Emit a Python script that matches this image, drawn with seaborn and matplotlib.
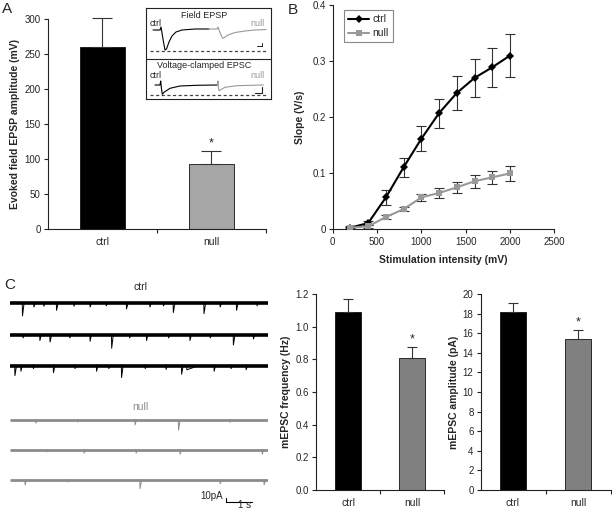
import numpy as np
import pandas as pd
import matplotlib
matplotlib.use('Agg')
import matplotlib.pyplot as plt
import seaborn as sns
from matplotlib.ticker import FuncFormatter

# ---------------- data ----------------
cats = ['ctrl', 'null']
a_amp = [260, 92]
a_err = [41, 19]

b_intensity = [200, 400, 600, 800, 1000, 1200, 1400, 1600, 1800, 2000]
b_ctrl = [0.002, 0.010, 0.056, 0.110, 0.161, 0.207, 0.243, 0.270, 0.289, 0.310]
b_ctrl_err = [0.002, 0.003, 0.014, 0.017, 0.022, 0.026, 0.030, 0.034, 0.035, 0.038]
b_null = [0.002, 0.004, 0.021, 0.035, 0.056, 0.064, 0.074, 0.085, 0.092, 0.099]
b_null_err = [0.001, 0.002, 0.003, 0.004, 0.007, 0.009, 0.010, 0.012, 0.012, 0.014]

c_freq = [1.09, 0.81]
c_freq_err = [0.08, 0.065]
c_amp = [18.2, 15.4]
c_amp_err = [0.9, 0.9]

# mEPSC trace events: (time s, depth pA, decay s)
ctrl_events = [
    [(0.48, 34, 0.06), (0.92, 10, 0.05), (1.3, 8, 0.05), (1.79, 19, 0.06), (2.46, 8, 0.05),
     (3.08, 10, 0.05), (3.7, 7, 0.05), (4.48, 15, 0.06), (5.38, 10, 0.05), (5.9, 7, 0.05),
     (6.28, 25, 0.06), (7.46, 28, 0.06), (8.08, 10, 0.05), (8.71, 19, 0.06), (9.5, 7, 0.05)],
    [(0.5, 8, 0.05), (1.15, 15, 0.05), (1.54, 19, 0.06), (2.3, 8, 0.05), (3.08, 17, 0.05),
     (3.91, 36, 0.06), (4.6, 8, 0.05), (5.25, 15, 0.05), (6.1, 8, 0.05), (6.92, 15, 0.05),
     (7.7, 8, 0.05), (8.59, 27, 0.06), (9.36, 11, 0.05)],
    [(0.19, 27, 0.06), (0.42, 15, 0.05), (0.9, 8, 0.05), (1.67, 19, 0.06), (2.5, 8, 0.05),
     (3.33, 15, 0.05), (3.8, 8, 0.05), (4.29, 32, 0.06), (5.2, 8, 0.05), (6.0, 10, 0.05),
     (6.6, 23, 0.06), (6.8, 11, 0.45), (7.85, 15, 0.05), (8.5, 8, 0.05), (9.08, 11, 0.05)],
]
null_events = [
    [(1.0, 8, 0.05), (2.6, 5, 0.05), (4.81, 13, 0.05), (6.48, 27, 0.06), (8.46, 6, 0.05)],
    [(1.4, 5, 0.05), (2.85, 8, 0.05), (4.85, 8, 0.05), (6.54, 11, 0.05), (9.7, 11, 0.05)],
    [(0.58, 13, 0.05), (2.2, 5, 0.05), (5.0, 23, 0.06), (8.08, 10, 0.05), (9.77, 13, 0.05)],
]
trace_len = 9.92

# inset waveforms (relative units)
fepsp_ctrl_x = [7, 14, 15, 16, 17.5, 19, 20.5, 23, 26, 30, 36, 49, 63]
fepsp_ctrl_y = [21.7, 21.7, 18.7, 24.7, 33.7, 41.7, 40.7, 33.7, 27.7, 23.7, 21.7, 20.7, 20.7]
fepsp_null_x = [63, 71, 72, 73, 75, 76.7, 78.5, 82, 89, 99, 109, 120]
fepsp_null_y = [20.7, 20.7, 18.7, 21.7, 26.7, 30, 29.2, 26.7, 24.2, 22.7, 21.7, 21.2]
epsc_ctrl_x = [9, 14, 14.7, 15.3, 16.3, 18, 24, 34, 50.7, 71.3]
epsc_ctrl_y = [76.7, 76.7, 72.7, 79, 86, 84, 80, 77.7, 77, 76.7]
epsc_null_x = [71.3, 72, 72.5, 73, 79, 90.7, 117.3]
epsc_null_y = [76.7, 72.7, 80, 82.4, 79, 77.4, 76.7]

# ---------------- style ----------------
sns.set_theme(style='white')
plt.rcParams['font.family'] = ['Liberation Sans', 'DejaVu Sans']
plt.rcParams['axes.linewidth'] = 0.8

W, H = 612, 509
fig = plt.figure(figsize=(6.12, 5.09), dpi=100)


def axpx(l, t, r, b):
    return fig.add_axes([l / W, 1 - b / H, (r - l) / W, (b - t) / H])


def style(ax):
    for s in ['top', 'right']:
        ax.spines[s].set_visible(False)
    for s in ['left', 'bottom']:
        ax.spines[s].set_color('#222222')
        ax.spines[s].set_linewidth(0.8)
    ax.tick_params(axis='y', which='both', left=True, direction='out', length=3, width=0.8,
                   labelsize=7, pad=2, color='#222222')
    ax.set_facecolor('none')


def unclip(eb):
    for group in eb.lines[1:]:
        for art in group:
            art.set_clip_on(False)


def barpanel(ax, vals, errs, colors, ylim, yticks, fmt, ylabel, capsize, width):
    df = pd.DataFrame({'cond': cats, 'val': vals})
    sns.barplot(data=df, x='cond', y='val', hue='cond', palette=dict(zip(cats, colors)),
                width=width, edgecolor='#111111', linewidth=0.6, legend=False, ax=ax)
    eb = ax.errorbar(x=[0, 1], y=vals, yerr=[[0, 0], errs], fmt='none', ecolor='#333333',
                     elinewidth=0.8, capsize=capsize, capthick=0.8)
    unclip(eb)
    style(ax)
    ax.set_xlim(-0.5, 1.5)
    ax.set_ylim(*ylim)
    ax.set_yticks(yticks)
    ax.yaxis.set_major_formatter(FuncFormatter(fmt))
    ax.set_xticks([0, 1])
    ax.set_xticklabels(cats)
    ax.tick_params(axis='x', which='major', bottom=False, length=0, labelsize=7.5, pad=6)
    ax.set_xticks([0.5, 1.5], minor=True)
    ax.tick_params(axis='x', which='minor', bottom=True, direction='out', length=3, width=0.8,
                   color='#222222')
    ax.set_xlabel('')
    ax.set_ylabel(ylabel, fontsize=7.5, fontweight='bold', labelpad=3)
    ax.text(1, vals[1] + errs[1] + (ylim[1] - ylim[0]) * 0.01, '*', ha='center', va='bottom',
            fontsize=9)


# ---------------- panel A ----------------
axA = axpx(47.7, 19, 266, 228.7)
barpanel(axA, a_amp, a_err, ['black', '#a6a6a6'], (0, 300), range(0, 301, 50),
         lambda v, p: f'{v:.0f}', 'Evoked field EPSP amplitude (mV)', 7, 0.41)

# inset
axI = axpx(146, 8.3, 270.7, 99.3)
axI.set_xlim(0, 124.7)
axI.set_ylim(91, 0)
axI.set_xticks([])
axI.set_yticks([])
for s in axI.spines.values():
    s.set_color('#222222')
    s.set_linewidth(0.8)
axI.set_facecolor('white')
axI.axhline(50.4, color='#222222', lw=0.8)
axI.plot(fepsp_ctrl_x, fepsp_ctrl_y, color='black', lw=0.8)
axI.plot(fepsp_null_x, fepsp_null_y, color='#999999', lw=0.8)
axI.plot(epsc_ctrl_x, epsc_ctrl_y, color='black', lw=0.8)
axI.plot(epsc_null_x, epsc_null_y, color='#999999', lw=0.8)
axI.hlines([42.4, 87], 4, 122, color='#444444', lw=0.9, linestyles=(0, (2.5, 2)))
axI.plot([111.3, 115.7, 115.7], [37.4, 37.4, 34.4], color='#222222', lw=0.7)
axI.plot([109, 115.7, 115.7], [85, 85, 79], color='#222222', lw=0.8)
axI.text(58.3, 6.7, 'Field EPSP', ha='center', va='center', fontsize=6.5)
axI.text(4, 15.7, 'ctrl', ha='left', va='center', fontsize=6.5)
axI.text(119, 15.7, 'null', ha='right', va='center', fontsize=6.5, color='#999999')
axI.text(58.3, 57, 'Voltage-clamped EPSC', ha='center', va='center', fontsize=6.5)
axI.text(4, 67.7, 'ctrl', ha='left', va='center', fontsize=6.5)
axI.text(119, 67.7, 'null', ha='right', va='center', fontsize=6.5, color='#999999')

# ---------------- panel B ----------------
axB = axpx(332.7, 5.3, 554.3, 228.7)
dfB = pd.DataFrame({
    'intensity': b_intensity * 2,
    'slope': b_ctrl + b_null,
    'err': b_ctrl_err + b_null_err,
    'genotype': ['ctrl'] * len(b_intensity) + ['null'] * len(b_intensity),
})
palB = {'ctrl': 'black', 'null': '#999999'}
for g in cats:
    sub = dfB[dfB.genotype == g]
    axB.errorbar(sub.intensity, sub.slope, yerr=sub.err, fmt='none', ecolor='#333333',
                 elinewidth=0.8, capsize=3.5, capthick=0.8, zorder=1)
sns.lineplot(data=dfB, x='intensity', y='slope', hue='genotype', style='genotype',
             markers={'ctrl': 'D', 'null': 's'}, dashes=False, palette=palB,
             markersize=4, markeredgewidth=0, linewidth=1.5, ax=axB, zorder=3)
style(axB)
axB.set_xlim(0, 2500)
axB.set_ylim(0, 0.4)
axB.set_xticks(range(0, 2501, 500))
axB.set_yticks([0, 0.1, 0.2, 0.3, 0.4])
axB.yaxis.set_major_formatter(FuncFormatter(lambda v, p: f'{v:g}'))
axB.tick_params(axis='x', bottom=True, direction='out', length=3, width=0.8, labelsize=7,
                pad=3, color='#222222')
axB.set_xlabel('Stimulation intensity (mV)', fontsize=7.5, fontweight='bold', labelpad=6)
axB.set_ylabel('Slope (V/s)', fontsize=7.5, fontweight='bold', labelpad=5)
h, l = axB.get_legend_handles_labels()
keep = [(hh, ll) for hh, ll in zip(h, l) if ll in cats]
leg = axB.legend([k[0] for k in keep], [k[1] for k in keep], loc='upper left',
                 bbox_to_anchor=(0.051, 0.979), borderaxespad=0, fontsize=7.5,
                 fancybox=False, framealpha=1, edgecolor='#888888', handlelength=2.0,
                 handletextpad=0.3, borderpad=0.4, labelspacing=0.4)
leg.get_frame().set_linewidth(0.8)

# ---------------- panel C traces ----------------
axT = axpx(10, 292, 268, 509)
axT.set_xlim(0, trace_len)
axT.set_ylim(-586, 0)
axT.axis('off')
ctrl_base = [-30.5, -116, -199]
null_base = [-346, -427, -508]


def draw_trace(base, events, color, band):
    axT.hlines(base, 0, trace_len, color=color, lw=band)
    for t, d, dec in events:
        axT.plot([t - 0.01, t, t + dec], [base + 2, base - d, base], color=color, lw=0.7)


for b, ev in zip(ctrl_base, ctrl_events):
    draw_trace(b, ev, 'black', 2.6)
for b, ev in zip(null_base, null_events):
    draw_trace(b, ev, '#8c8c8c', 2.0)
axT.plot([8.3, 8.3, 9.3], [-557, -567, -567], color='black', lw=0.8, clip_on=False)
axT.text(8.2, -551, '10pA', ha='right', va='center', fontsize=7)
axT.text(9.0, -575, '1 s', ha='center', va='center', fontsize=7)
fig.text(140 / W, 1 - 287 / H, 'ctrl', ha='center', va='center', fontsize=7.5)
fig.text(140 / W, 1 - 407 / H, 'null', ha='center', va='center', fontsize=7.5, color='#8c8c8c')

# ---------------- panel C bars ----------------
axF = axpx(316, 294, 444, 490)
barpanel(axF, c_freq, c_freq_err, ['black', '#808080'], (0, 1.2),
         [0, 0.2, 0.4, 0.6, 0.8, 1.0, 1.2], lambda v, p: f'{v:.1f}',
         'mEPSC frequency (Hz)', 3.6, 0.4)
axM = axpx(480.5, 294, 610.5, 490)
barpanel(axM, c_amp, c_amp_err, ['black', '#808080'], (0, 20), range(0, 21, 2),
         lambda v, p: f'{v:.0f}', 'mEPSC amplitude (pA)', 3.6, 0.4)

# panel letters
fig.text(7 / W, 1 - 9 / H, 'A', ha='center', va='center', fontsize=11)
fig.text(293 / W, 1 - 10 / H, 'B', ha='center', va='center', fontsize=11)
fig.text(10 / W, 1 - 285 / H, 'C', ha='center', va='center', fontsize=11)

fig.savefig('out.png', dpi=100)
